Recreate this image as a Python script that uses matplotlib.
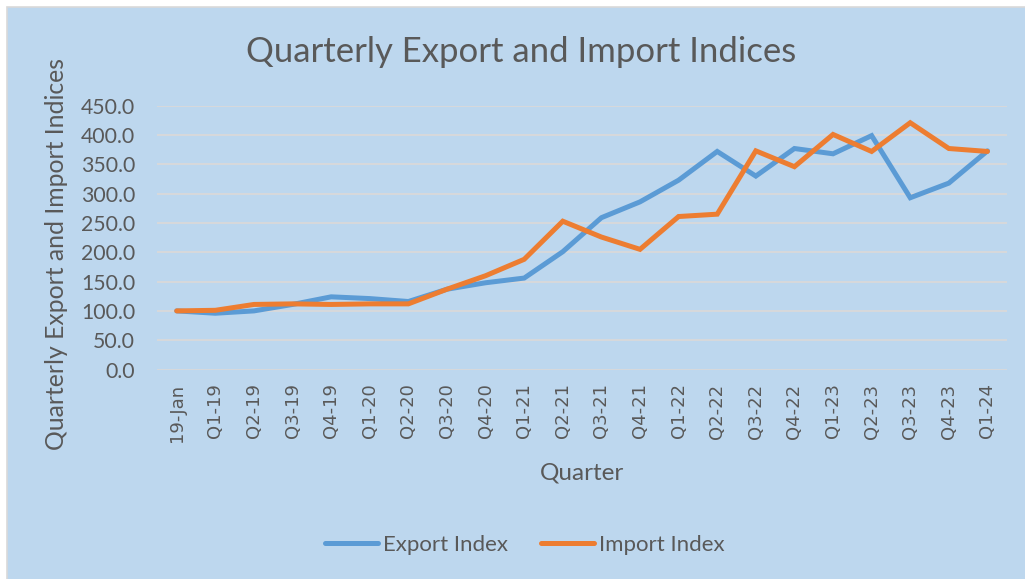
import matplotlib
matplotlib.use("Agg")
import matplotlib.pyplot as plt
from matplotlib.patches import Rectangle

# quarter labels and index values
quarters = ["19-Jan", "Q1-19", "Q2-19", "Q3-19", "Q4-19", "Q1-20", "Q2-20", "Q3-20",
            "Q4-20", "Q1-21", "Q2-21", "Q3-21", "Q4-21", "Q1-22", "Q2-22", "Q3-22",
            "Q4-22", "Q1-23", "Q2-23", "Q3-23", "Q4-23", "Q1-24"]
export_index = [100, 96, 100, 111, 124, 121, 116, 137, 148, 156, 201, 259, 286, 323,
                372, 330, 377, 368, 399, 293, 318, 373]
import_index = [100, 101, 111, 112, 111, 112, 112, 137, 160, 188, 253, 226, 205, 261,
                265, 373, 346, 401, 372, 421, 377, 372]
yticks = [0, 50, 100, 150, 200, 250, 300, 350, 400, 450]

text_col = "#595959"
bg_col = "#BDD7EE"

plt.rcParams["font.family"] = ["Lato", "DejaVu Sans"]

fig = plt.figure(figsize=(10.25, 5.79), dpi=100)
fig.patch.set_facecolor("white")
fig.patches.append(Rectangle((7 / 1025, -0.01), 1.0, 1 - 7 / 579 + 0.01,
                             transform=fig.transFigure, facecolor=bg_col,
                             edgecolor="#D9D9D9", linewidth=1.2, zorder=-10))

ax = fig.add_axes([0.1536, 0.3618, 0.8286, 0.4556])
ax.set_facecolor("none")
x = list(range(len(quarters)))
ax.plot(x, export_index, color="#5B9BD5", linewidth=3.6, label="Export Index",
        solid_capstyle="round", solid_joinstyle="miter", zorder=3)
ax.plot(x, import_index, color="#ED7D31", linewidth=3.6, label="Import Index",
        solid_capstyle="round", solid_joinstyle="miter", zorder=4)

ax.set_xlim(-0.5, len(quarters) - 0.5)
ax.set_ylim(0, 450)
ax.set_yticks(yticks)
ax.set_yticklabels([f"{v:.1f}" for v in yticks], fontsize=15.3, color=text_col)
ax.set_xticks(x, quarters)
ax.tick_params(axis="x", length=0, pad=10, labelrotation=90, labelcolor=text_col,
               labelsize=13)
ax.tick_params(axis="y", length=0, pad=16)
for tick in ax.xaxis.get_major_ticks():
    tick.label1.set_family(["DejaVu Sans"])
ax.grid(axis="y", color="#D9D9D9", linewidth=1.3)
ax.set_axisbelow(True)
for s in ax.spines.values():
    s.set_visible(False)

ax.set_ylabel("Quarterly Export and Import Indices", fontsize=17.8, color=text_col)
ax.yaxis.set_label_coords(-0.105, 0.438)

fig.text(0.508, 0.910, "Quarterly Export and Import Indices", fontsize=25,
         color=text_col, ha="center", va="center")
fig.text(0.568, 0.183, "Quarter", fontsize=17.5, color=text_col, ha="center", va="center")

fig.legend(loc="center", bbox_to_anchor=(0.512, 0.059), ncol=2, frameon=False,
           fontsize=16, labelcolor=text_col, handlelength=2.4, handletextpad=0.2,
           columnspacing=1.5)

fig.savefig("out.png", dpi=100)
